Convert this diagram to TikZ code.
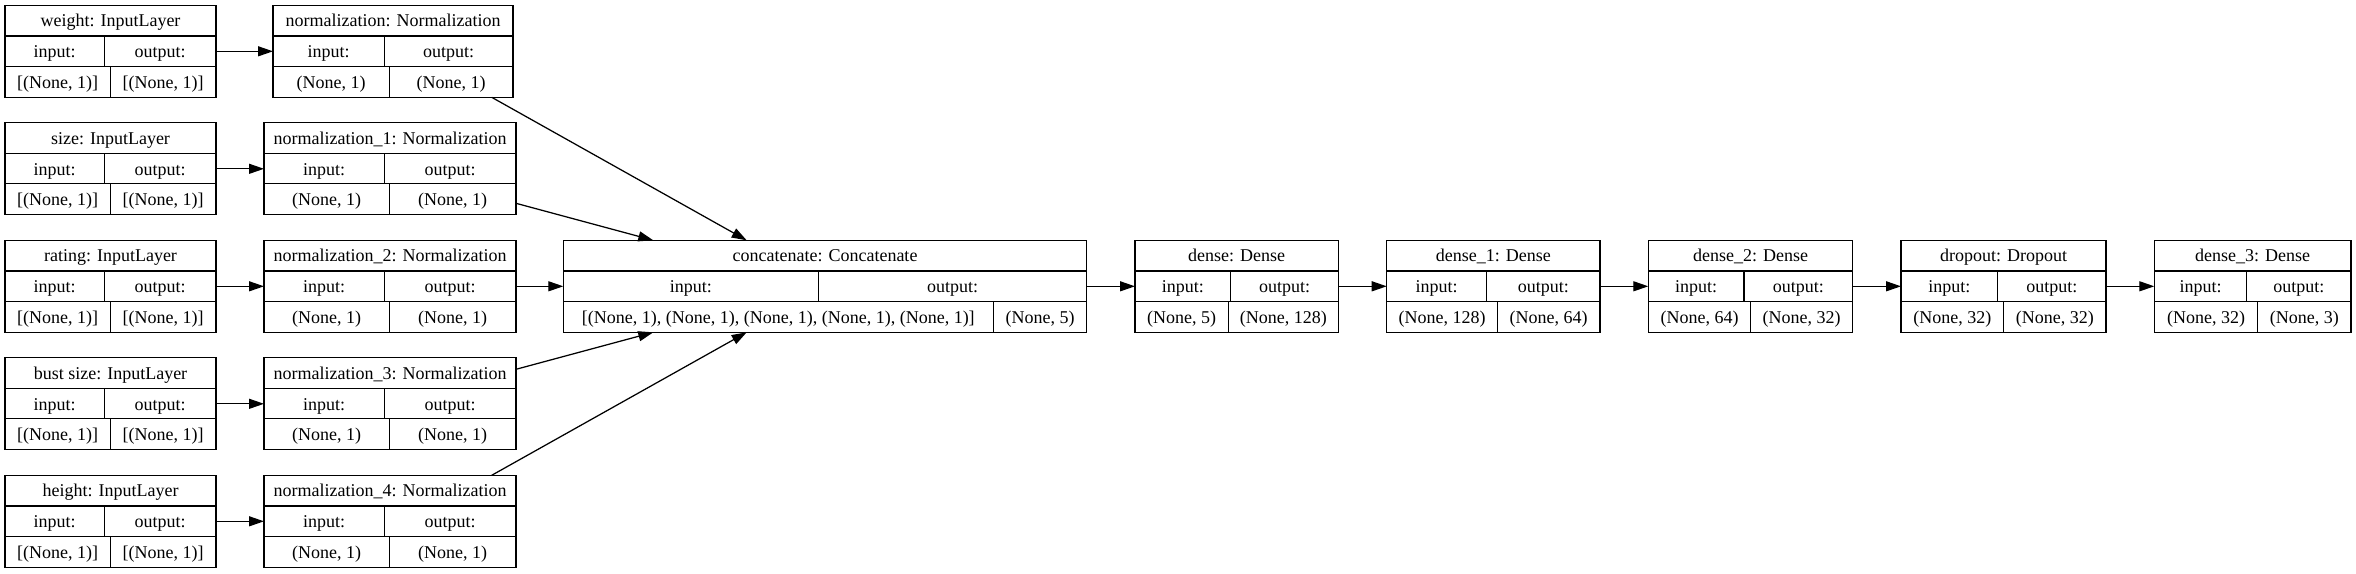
\documentclass[tikz,border=0pt]{standalone}
\usepackage{fontspec}
\setmainfont{Liberation Serif}
\usetikzlibrary{arrows.meta}
\tikzset{
  boxshape/.style={draw=black, line width=1.25pt, inner sep=0pt, outer sep=0pt, minimum height=92pt},
  gridline/.style={draw=black, line width=1.25pt},
  txt/.style={anchor=base, inner sep=0pt, font=\fontsize{18}{21.5}\selectfont},
  arr/.style={draw=black, line width=1.25pt, -{Triangle[length=15pt,width=10pt]}}
}
% name, xl, xr, ytop, split row2, split row3, title, in shape, out shape
\newcommand{\layerbox}[9]{%
  \node[boxshape, minimum width={(#3-#2)*1pt}] (#1) at ({(#2+#3)/2},{#4+46}) {};
  \draw[gridline] (#2,{#4+30.7}) -- (#3,{#4+30.7});
  \draw[gridline] (#2,{#4+61}) -- (#3,{#4+61});
  \draw[gridline] (#5,{#4+30.7}) -- (#5,{#4+61});
  \draw[gridline] (#6,{#4+61}) -- (#6,{#4+92});
  \node[txt] at ({(#2+#3)/2},{#4+21.5}) {#7};
  \node[txt] at ({(#2+#5)/2},{#4+52.2}) {input:};
  \node[txt] at ({(#5+#3)/2},{#4+52.2}) {output:};
  \node[txt] at ({(#2+#6)/2},{#4+82.8}) {#8};
  \node[txt] at ({(#6+#3)/2},{#4+82.8}) {#9};
}
\begin{document}
\begin{tikzpicture}[x=1pt, y=-1pt]
\useasboundingbox[fill=white] (0,0) rectangle (2356,573);
% input layers
\layerbox{in0}{5}{216}{5.3}{104.3}{110.3}{weight: InputLayer}{[(None, 1)]}{[(None, 1)]}
\layerbox{in1}{5}{216}{122.8}{104.3}{110.3}{size: InputLayer}{[(None, 1)]}{[(None, 1)]}
\layerbox{in2}{5}{216}{240.3}{104.3}{110.3}{rating: InputLayer}{[(None, 1)]}{[(None, 1)]}
\layerbox{in3}{5}{216}{357.8}{104.3}{110.3}{bust size: InputLayer}{[(None, 1)]}{[(None, 1)]}
\layerbox{in4}{5}{216}{475.3}{104.3}{110.3}{height: InputLayer}{[(None, 1)]}{[(None, 1)]}
% normalization layers
\layerbox{n0}{273}{513}{5.3}{384.3}{389.3}{normalization: Normalization}{(None, 1)}{(None, 1)}
\layerbox{n1}{264}{516}{122.8}{384.3}{389.3}{normalization\_1: Normalization}{(None, 1)}{(None, 1)}
\layerbox{n2}{264}{516}{240.3}{384.3}{389.3}{normalization\_2: Normalization}{(None, 1)}{(None, 1)}
\layerbox{n3}{264}{516}{357.8}{384.3}{389.3}{normalization\_3: Normalization}{(None, 1)}{(None, 1)}
\layerbox{n4}{264}{516}{475.3}{384.3}{389.3}{normalization\_4: Normalization}{(None, 1)}{(None, 1)}
% main chain
\layerbox{cc}{563.3}{1086.7}{240.3}{818.3}{993.3}{concatenate: Concatenate}{[(None, 1), (None, 1), (None, 1), (None, 1), (None, 1)]}{(None, 5)}
\layerbox{d0}{1135}{1338.3}{240.3}{1230.7}{1228.3}{dense: Dense}{(None, 5)}{(None, 128)}
\layerbox{d1}{1386.7}{1600}{240.3}{1486.7}{1497.3}{dense\_1: Dense}{(None, 128)}{(None, 64)}
\layerbox{d2}{1648.3}{1852.7}{240.3}{1744}{1750.7}{dense\_2: Dense}{(None, 64)}{(None, 32)}
\layerbox{dr}{1901}{2106}{240.3}{1997.7}{2003.7}{dropout: Dropout}{(None, 32)}{(None, 32)}
\layerbox{d3}{2154.3}{2351}{240.3}{2246.7}{2257.7}{dense\_3: Dense}{(None, 32)}{(None, 3)}
% connectors
\draw[arr] (in0.east) -- (n0.west);
\draw[arr] (in1.east) -- (n1.west);
\draw[arr] (in2.east) -- (n2.west);
\draw[arr] (in3.east) -- (n3.west);
\draw[arr] (in4.east) -- (n4.west);
\draw[arr] ([xshift=-21.3pt]n0.south east) -- ([xshift=183.4pt]cc.north west);
\draw[arr] ([yshift=-34.5pt]n1.east) -- ([xshift=90pt]cc.north west);
\draw[arr] (n2.east) -- (cc.west);
\draw[arr] ([yshift=-11.5pt]n3.north east) -- ([xshift=90pt]cc.south west);
\draw[arr] ([xshift=-24.3pt]n4.north east) -- ([xshift=183.4pt]cc.south west);
\draw[arr] (cc.east) -- (d0.west);
\draw[arr] (d0.east) -- (d1.west);
\draw[arr] (d1.east) -- (d2.west);
\draw[arr] (d2.east) -- (dr.west);
\draw[arr] (dr.east) -- (d3.west);
\end{tikzpicture}
\end{document}
